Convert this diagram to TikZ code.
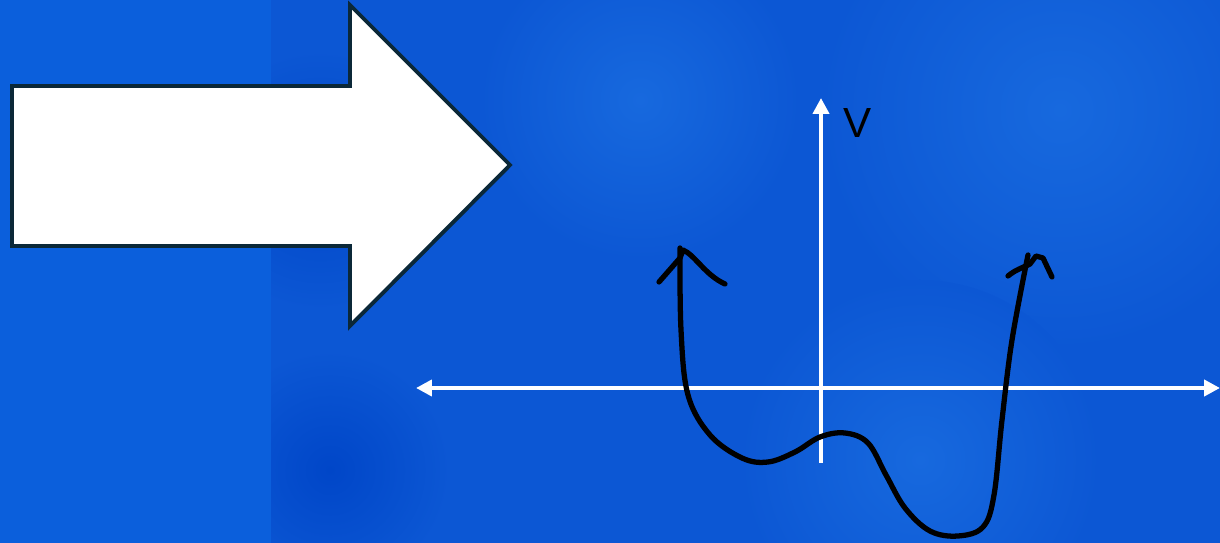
\documentclass[tikz,border=0pt]{standalone}
\usepackage{fontspec}
\setmainfont{Liberation Sans}
\usepackage{tikz}
\usetikzlibrary{arrows.meta}

\definecolor{bandblue}{HTML}{0B5FDC}
\definecolor{skyblue}{HTML}{0C57D4}
\definecolor{lightblob}{HTML}{1769DE}
\definecolor{darkblob}{HTML}{0046C8}
\definecolor{arrowedge}{HTML}{0B2838}

\begin{document}
\begin{tikzpicture}[x=0.02cm, y=-0.02cm]

            % Background
            \useasboundingbox (0, 0) rectangle (1220, 543);
            \fill[skyblue] (271, 0) rectangle (1220, 543);
            \begin{scope}
                \clip (271, 0) rectangle (1220, 543);
                \shade[inner color=lightblob, outer color=skyblue] (1060, 110) circle (240);
                \shade[inner color=lightblob, outer color=skyblue] (640, 100) circle (160);
                \shade[inner color=lightblob, outer color=skyblue] (920, 460) circle (180);
                \shade[inner color=darkblob, outer color=skyblue] (320, 180) circle (130);
                \shade[inner color=darkblob, outer color=skyblue] (330, 470) circle (120);
            \end{scope}
            \fill[bandblue] (0, 0) rectangle (271, 543);

            % Big arrow
            \draw[arrowedge, line width=2.2pt, fill=white, line join=miter]
                (12, 86) -- (350, 86) -- (350, 5) -- (510, 165)
                -- (350, 326) -- (350, 246) -- (12, 246) -- cycle;

            % Axes
            \draw[white, line width=2.3pt, -{Triangle[length=9pt, width=9pt]}] (821, 463) -- (821, 98);
            \draw[white, line width=2.3pt, {Triangle[length=9pt, width=9pt]}-{Triangle[length=9pt, width=9pt]}] (416, 388) -- (1220, 388);
            \node[anchor=west, font=\fontsize{24}{28}\selectfont, inner sep=0pt] (vlabel) at (843, 123) {V};

            % Potential curve
            \draw[black, line width=3pt, line cap=round, line join=round] plot[smooth, tension=0.6] coordinates {
                (680, 248) (681, 330) (688, 395) (710, 435) (742, 458) (768, 462)
                (795, 452) (820, 437) (845, 433) (868, 443) (886, 475) (905, 508)
                (930, 531) (958, 536) (983, 527) (994, 495) (1002, 420) (1012, 340) (1028, 255)};

            % Hand-drawn tips
            \draw[black, line width=3pt, line cap=round, line join=round]
                (659, 282) -- (680, 258) -- (683, 250) .. controls (695, 255) and (705, 275) .. (725, 284);
            \draw[black, line width=3pt, line cap=round, line join=round]
                (1008, 276) .. controls (1015, 270) and (1022, 268) .. (1030, 264) -- (1036, 256)
                -- (1043, 258) -- (1052, 277);
        \end{tikzpicture}
\end{document}
